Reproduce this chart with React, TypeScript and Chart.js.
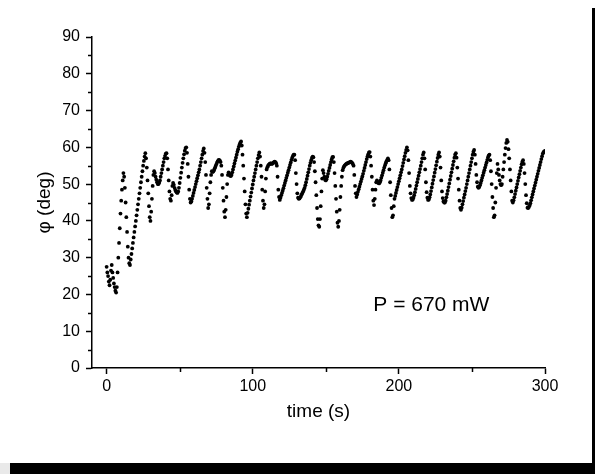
import React, { useEffect, useRef } from 'react';
import { Chart, registerables } from 'chart.js';

Chart.register(...registerables);

// Sampling interval of the recorded angle (s)
const sampleIntervalS = 0.5;

// φ (deg), one reading every 0.5 s from t = 0 to t = 300 s (10 readings per row = 5 s)
const phiDeg: number[] = [
  27.5, 26, 25, 23.5, 22.5, 24, 26.5, 28, 26, 24.5,
  23, 22, 21, 20.5, 22, 26, 30, 34, 38, 42,
  45.5, 48.5, 51, 53, 52, 49, 45, 41, 37, 33,
  30, 28.5, 28, 29.5, 31, 32.5, 34, 35.5, 37, 38.5,
  40, 41.5, 43, 44.5, 46, 47.5, 49, 50.5, 52, 53.5,
  55, 56.3, 57.5, 58.4, 57, 54.5, 51, 47.5, 44, 41,
  40, 42.5, 46, 49.5, 52.5, 53.5, 53, 52, 51.2, 50.5,
  50, 50, 50.4, 51, 52, 53, 54, 55, 56, 57,
  57.7, 58.3, 58.4, 57, 54, 51, 48, 46, 45.5, 47,
  49.5, 50.3, 49.8, 49, 48.4, 48, 47.7, 47.6, 48, 49,
  50.3, 51.7, 53.1, 54.5, 55.8, 57, 58.1, 59.1, 59.8, 60,
  58.5, 55.5, 52, 48.5, 46, 45, 45.3, 46, 46.8, 47.6,
  48.4, 49.2, 50, 50.8, 51.6, 52.4, 53.2, 54, 55, 56,
  57, 58, 59, 59.7, 58.5, 56, 52.5, 49, 46, 43.5,
  44.5, 47.5, 50.5, 52.5, 53.5, 53.3, 53.4, 53.8, 54.3, 54.8,
  55.3, 55.8, 56.2, 56.5, 56.6, 56.4, 56, 55, 52.5, 49,
  45.5, 42.5, 41, 43, 46.5, 50, 52.5, 53.2, 52.7, 52.3,
  52.2, 52.5, 53.2, 54, 54.8, 55.6, 56.4, 57.2, 58, 58.8,
  59.5, 60.2, 60.8, 61.3, 61.6, 60.5, 58, 55, 51.5, 48,
  44.5, 42, 41, 42.2, 43.3, 44.4, 45.5, 46.6, 47.7, 48.8,
  49.9, 51, 52, 53, 54, 55, 56, 57, 57.9, 58.6,
  57.5, 55, 52, 48.5, 45.5, 43.5, 44.5, 48, 51.5, 54,
  54.6, 55, 55.3, 55.5, 55.6, 55.6, 55.5, 55.6, 55.8, 56,
  56.1, 56, 55.7, 55, 52, 48.5, 46.5, 45.7, 46.3, 47,
  47.6, 48.2, 48.9, 49.6, 50.3, 51, 51.7, 52.4, 53.1, 53.8,
  54.5, 55.2, 55.9, 56.6, 57.2, 57.7, 58, 58, 56.5, 53,
  50, 47.5, 46.3, 46, 46.1, 46.4, 46.8, 47.2, 47.6, 48,
  48.5, 49, 49.7, 50.5, 51.4, 52.3, 53.2, 54.1, 55, 55.8,
  56.5, 57.1, 57.5, 57.3, 56, 53.5, 50.5, 47, 43.5, 40.5,
  38.8, 38.4, 40.5, 44, 48, 51.5, 53.8, 53, 52, 51.2,
  51, 51.3, 52, 52.8, 53.6, 54.4, 55.2, 56, 56.7, 57.3,
  57.4, 56, 53, 49.5, 46, 42.5, 39.5, 38.4, 40, 43,
  46.5, 49.5, 52, 53.8, 54.4, 54.8, 55.1, 55.3, 55.5, 55.6,
  55.7, 55.8, 55.9, 56, 56.1, 56, 55.8, 55.5, 55, 52.5,
  49.5, 47.5, 46.5, 47.2, 47.9, 48.6, 49.3, 50, 50.7, 51.4,
  52.1, 52.8, 53.6, 54.4, 55.2, 56, 56.8, 57.5, 58.1, 58.6,
  58.7, 57.5, 55, 52, 48.5, 45.5, 44.3, 46, 48.5, 50.5,
  51, 50.6, 50.3, 50.2, 50.5, 51, 51.7, 52.4, 53.1, 53.8,
  54.5, 55.1, 55.7, 56.2, 56.6, 57, 56.5, 54, 50.5, 47,
  43.5, 41, 41.5, 44, 46, 46.8, 47.6, 48.4, 49.2, 50,
  50.8, 51.6, 52.4, 53.2, 54, 54.9, 55.8, 56.7, 57.6, 58.5,
  59.3, 60, 59.2, 56.5, 53, 49.5, 47.5, 46.2, 45.7, 45.8,
  46.3, 47, 47.8, 48.7, 49.6, 50.5, 51.4, 52.3, 53.2, 54.1,
  55, 56, 57, 58, 58.6, 57, 54, 50.5, 47.8, 46.3,
  45.7, 45.8, 46.4, 47.2, 48.1, 49.1, 50.1, 51.1, 52.1, 53.1,
  54.1, 55.1, 56.1, 57.1, 58, 58.6, 57.5, 54.5, 51, 48,
  46.2, 45.3, 45, 45, 45.5, 46.4, 47.3, 48.2, 49.2, 50.2,
  51.2, 52.2, 53.2, 54.2, 55.2, 56.2, 57.2, 58, 58.4, 57.2,
  54.5, 51.5, 48.5, 45.5, 43.5, 43, 43.6, 44.5, 45.4, 46.3,
  47.2, 48.1, 49, 50, 51, 52, 53, 54, 55, 56,
  57, 58, 58.8, 59.3, 58, 55.5, 52.5, 50.5, 49.3, 49,
  49.2, 49.7, 50.3, 51, 51.7, 52.4, 53.1, 53.8, 54.5, 55.2,
  55.9, 56.6, 57.3, 57.8, 58, 56.5, 53.5, 50, 46.5, 43.5,
  41, 41.5, 45, 49, 53, 55.5, 54, 52.5, 51, 50,
  49.7, 50, 52, 54, 56, 58, 59.8, 61.2, 62, 61.5,
  59.5, 57, 54, 51, 48, 45.5, 45, 45.6, 46.4, 47.3,
  48.2, 49.1, 50, 50.9, 51.8, 52.7, 53.6, 54.5, 55.4, 56.1,
  56.5, 55.5, 53, 50, 47, 44.8, 43.6, 43.5, 43.8, 44.2,
  44.8, 45.6, 46.4, 47.2, 48, 48.8, 49.6, 50.4, 51.2, 52,
  52.8, 53.6, 54.4, 55.2, 56, 56.8, 57.6, 58.3, 58.7, 58.9,
  59,
];

const xMajorTicks = [0, 100, 200, 300];
const xMinorTicks = [50, 150, 250];
const yMajorTicks = [0, 10, 20, 30, 40, 50, 60, 70, 80, 90];
const yMinorTicks = [5, 15, 25, 35, 45, 55, 65, 75, 85];

const xTitle = 'time (s)';
const yTitle = 'φ (deg)';
const annotationText = 'P = 670 mW';
const annotationAt = { x: 182.5, y: 15.5 };

const FONT = "'Liberation Sans', Arial, Helvetica, sans-serif";

export default function App() {
  const canvasRef = useRef<HTMLCanvasElement | null>(null);

  useEffect(() => {
    const canvas = canvasRef.current;
    if (!canvas) return;
    const points = phiDeg.map((y, i) => ({ x: i * sampleIntervalS, y }));

    const extras = {
      id: 'extras',
      afterDraw(chart: any) {
        const { ctx } = chart;
        const xs = chart.scales.x;
        const ys = chart.scales.y;
        ctx.save();
        ctx.strokeStyle = '#000';
        ctx.lineWidth = 1.5;
        xMinorTicks.forEach((v) => {
          const px = Math.round(xs.getPixelForValue(v)) + 0.5;
          ctx.beginPath();
          ctx.moveTo(px, ys.bottom);
          ctx.lineTo(px, ys.bottom + 4);
          ctx.stroke();
        });
        yMinorTicks.forEach((v) => {
          const py = Math.round(ys.getPixelForValue(v)) + 0.5;
          ctx.beginPath();
          ctx.moveTo(xs.left, py);
          ctx.lineTo(xs.left - 4, py);
          ctx.stroke();
        });
        ctx.font = `21px ${FONT}`;
        ctx.fillStyle = '#000';
        ctx.textAlign = 'left';
        ctx.textBaseline = 'alphabetic';
        ctx.fillText(annotationText, xs.getPixelForValue(annotationAt.x), ys.getPixelForValue(annotationAt.y));
        ctx.restore();
      },
    };

    const chart = new Chart(canvas, {
      type: 'scatter',
      data: {
        datasets: [
          {
            data: points,
            pointRadius: 1.9,
            pointBackgroundColor: '#000',
            pointBorderWidth: 0,
            pointBorderColor: '#000',
            showLine: false,
          },
        ],
      },
      options: {
        animation: false,
        responsive: false,
        devicePixelRatio: 1,
        layout: { padding: { top: 37, right: 50, left: 0, bottom: 0 } },
        plugins: { legend: { display: false }, tooltip: { enabled: false } },
        scales: {
          x: {
            type: 'linear',
            min: -10,
            max: 300,
            afterFit: (s: any) => {
              s.height = 106;
            },
            afterBuildTicks: (s: any) => {
              s.ticks = xMajorTicks.map((value) => ({ value }));
            },
            ticks: {
              color: '#000',
              font: { family: FONT, size: 16 },
              padding: 3,
              maxRotation: 0,
              autoSkip: false,
            },
            grid: {
              display: true,
              drawOnChartArea: false,
              drawTicks: true,
              tickLength: 6,
              tickWidth: 1.5,
              tickColor: '#000',
            },
            border: { display: true, color: '#000', width: 1.5 },
            title: {
              display: true,
              text: xTitle,
              color: '#000',
              font: { family: FONT, size: 19 },
              padding: { top: 0, bottom: 51 },
            },
          },
          y: {
            type: 'linear',
            min: 0,
            max: 90,
            afterFit: (s: any) => {
              s.width = 92;
            },
            afterBuildTicks: (s: any) => {
              s.ticks = yMajorTicks.map((value) => ({ value }));
            },
            ticks: {
              color: '#000',
              font: { family: FONT, size: 16 },
              padding: 6,
              autoSkip: false,
            },
            grid: {
              display: true,
              drawOnChartArea: false,
              drawTicks: true,
              tickLength: 6,
              tickWidth: 1.5,
              tickColor: '#000',
            },
            border: { display: true, color: '#000', width: 1.5 },
            title: {
              display: true,
              text: yTitle,
              color: '#000',
              font: { family: FONT, size: 19 },
              padding: { top: 33, bottom: 0 },
            },
          },
        },
      },
      plugins: [extras],
    } as any);

    return () => {
      chart.destroy();
    };
  }, []);

  return (
    <div style={{ position: 'fixed', left: 0, top: 0, width: 595, height: 474, background: '#fff', overflow: 'hidden' }}>
      <canvas ref={canvasRef} width={595} height={474} style={{ display: 'block', width: 595, height: 474 }} />
      <div style={{ position: 'absolute', left: 592, top: 8, width: 3, height: 455, background: '#000' }} />
      <div style={{ position: 'absolute', left: 0, top: 463, width: 10, height: 11, background: '#e9e9e9' }} />
      <div style={{ position: 'absolute', left: 10, top: 463, width: 585, height: 11, background: '#000' }} />
    </div>
  );
}
